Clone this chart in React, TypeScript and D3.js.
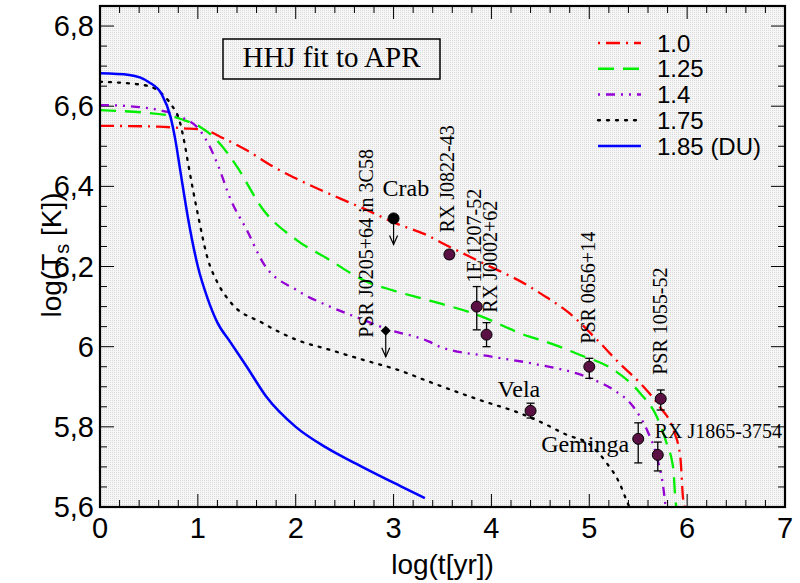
import React from 'react';
import * as d3 from 'd3';

const W = 800;
const H = 583;

// cooling curves: log(t[yr]) -> log(Ts[K]), one pair per stellar mass
const tM100 = [0, 0.6, 0.85, 1.06, 1.26, 1.5, 1.77, 2.0, 2.45, 2.69, 3.0, 3.37, 3.47, 3.9, 4.39, 4.5, 4.8, 5.08, 5.31, 5.52, 5.72, 5.86, 5.93, 5.96, 5.975];
const TM100 = [6.551, 6.549, 6.545, 6.541, 6.52, 6.49, 6.449, 6.42, 6.37, 6.345, 6.31, 6.275, 6.262, 6.21, 6.15, 6.133, 6.083, 6.017, 5.958, 5.909, 5.85, 5.792, 5.725, 5.617, 5.6];

const tM125 = [0, 0.68, 0.85, 1.02, 1.19, 1.33, 1.4, 1.67, 2.01, 2.35, 2.69, 3.0, 3.37, 3.85, 4.39, 4.5, 4.9, 5.25, 5.52, 5.69, 5.79, 5.86, 5.88, 5.89];
const TM125 = [6.59, 6.578, 6.566, 6.549, 6.516, 6.474, 6.449, 6.341, 6.266, 6.216, 6.166, 6.14, 6.115, 6.08, 6.025, 6.017, 5.98, 5.942, 5.884, 5.825, 5.759, 5.692, 5.617, 5.6];

const tM140 = [0, 0.3, 0.61, 0.82, 1.02, 1.12, 1.21, 1.33, 1.5, 1.67, 2.01, 2.35, 2.69, 2.92, 3.37, 3.47, 4.0, 4.42, 5.01, 5.25, 5.45, 5.59, 5.69, 5.76, 5.78];
const TM140 = [6.603, 6.6, 6.59, 6.574, 6.54, 6.5, 6.45, 6.37, 6.291, 6.208, 6.141, 6.1, 6.067, 6.045, 6.012, 6.0, 5.975, 5.958, 5.921, 5.892, 5.85, 5.792, 5.725, 5.642, 5.6];

const tM175 = [0, 0.44, 0.61, 0.73, 0.81, 0.87, 0.9, 1.0, 1.1, 1.2, 1.33, 1.67, 2.01, 2.35, 2.69, 3.07, 3.37, 3.88, 4.29, 4.53, 4.77, 5.0, 5.18, 5.31, 5.38, 5.41];
const TM175 = [6.661, 6.653, 6.636, 6.603, 6.566, 6.5, 6.458, 6.33, 6.22, 6.16, 6.112, 6.058, 6.017, 5.992, 5.967, 5.94, 5.912, 5.867, 5.834, 5.809, 5.78, 5.757, 5.709, 5.659, 5.617, 5.6];

const tM185 = [0, 0.3, 0.5, 0.63, 0.72, 0.77, 0.82, 0.9, 1.0, 1.1, 1.2, 1.33, 1.5, 1.7, 2.0, 2.3, 2.6, 3.07, 3.32];
const TM185 = [6.682, 6.678, 6.66, 6.63, 6.574, 6.516, 6.44, 6.32, 6.2, 6.12, 6.06, 6.012, 5.95, 5.875, 5.8, 5.75, 5.71, 5.652, 5.622];

const massLabels = ['1.0', '1.25', '1.4', '1.75', '1.85 (DU)'];

// observed pulsars
const psrNames = ['Crab', 'PSR J0205+64 in 3C58', 'RX J0822-43', '1E 1207-52', 'RX J0002+62', 'Vela', 'PSR 0656+14', 'Geminga', 'PSR 1055-52', 'RX J1865-3754'];
const psrAge = [3.0, 2.92, 3.57, 3.85, 3.95, 4.4, 5.0, 5.5, 5.73, 5.7];
const psrTemp = [6.32, 6.04, 6.23, 6.1, 6.03, 5.84, 5.95, 5.77, 5.87, 5.73];
const psrTempLo = [NaN, NaN, 6.22, 6.042, 6.0, 5.822, 5.921, 5.71, 5.842, 5.69];
const psrTempHi = [NaN, NaN, 6.24, 6.15, 6.06, 5.859, 5.971, 5.81, 5.892, 5.762];
const psrUpperLimit = [true, true, false, false, false, false, false, false, false, false];

const xTicks = [0, 1, 2, 3, 4, 5, 6, 7];
const yTicks = [5.6, 5.8, 6.0, 6.2, 6.4, 6.6, 6.8];

// styling
const lineColors = ['#ff0000', '#00ee00', '#9400d3', '#000000', '#0000ff'];
const lineDash = ['14,6,2,6', '16,9', '9,6,2,6,2,6', '2,7', null];
const legendDashOffset = [20, 0, 23, 0, 0];
// label placement relative to the point (px): dx, dy, rotated, font size, anchor
const labelPos: [number, number, boolean, number, string][] = [
  [-11, -22, false, 24, 'start'],
  [-13, 7, true, 20, 'start'],
  [5, -22, true, 20, 'start'],
  [4, -24, true, 20, 'start'],
  [10, -22, true, 20, 'start'],
  [-33, -14, false, 24, 'start'],
  [6, -23, true, 20, 'start'],
  [-9, 13, false, 24, 'end'],
  [6, -24, true, 20, 'start'],
  [-3, -17, false, 20, 'start'],
];

const serif = '"Liberation Serif", "Times New Roman", serif';
const sans = '"Liberation Sans", Arial, sans-serif';

export default function App() {
  const x = d3.scaleLinear().domain([0, 7]).range([100, 785]);
  const y = d3.scaleLinear().domain([5.6, 6.85]).range([507, 6]);
  const [x0, x1] = x.range();
  const [y0, y1] = y.range();

  const curves = [
    [tM100, TM100],
    [tM125, TM125],
    [tM140, TM140],
    [tM175, TM175],
    [tM185, TM185],
  ];

  const line = d3.line<[number, number]>()
    .x(d => x(d[0]))
    .y(d => y(d[1]))
    .curve(d3.curveMonotoneX);

  const xMinor = d3.range(0, 36).map(i => i * 0.2);
  const yMinor = d3.range(0, 26).map(i => 5.6 + i * 0.05).filter(v => v <= 6.85);
  const fmtY = (v: number) => {
    const s = d3.format('.1f')(v);
    return s.endsWith('.0') ? s.slice(0, -2) : s.replace('.', ',');
  };

  const legendY = d3.scaleLinear().domain([0, 4]).range([43, 146]);

  return (
    <svg width={W} height={H} style={{ position: 'absolute', left: 0, top: 0, background: '#fff' }}>
      <defs>
        <pattern id="dots" width="2" height="2" patternUnits="userSpaceOnUse">
          <rect width="2" height="2" fill="#f6f6f6" />
          <rect width="1" height="1" fill="#dadada" />
        </pattern>
        <clipPath id="plot">
          <rect x={x0} y={y1} width={x1 - x0} height={y0 - y1} />
        </clipPath>
      </defs>

      <rect x={x0} y={y1} width={x1 - x0} height={y0 - y1} fill="url(#dots)" />

      {/* ticks, all four sides, pointing inward */}
      <g stroke="#000" strokeWidth={1}>
        {xMinor.map((v, i) => {
          const major = Math.abs(v - Math.round(v)) < 1e-6;
          const len = major ? 13 : 7;
          return (
            <g key={'xt' + i}>
              <line x1={x(v)} x2={x(v)} y1={y0} y2={y0 - len} />
              <line x1={x(v)} x2={x(v)} y1={y1} y2={y1 + len} />
            </g>
          );
        })}
        {yMinor.map((v, i) => {
          const major = Math.abs(v * 5 - Math.round(v * 5)) < 1e-6;
          const len = major ? 14 : 7;
          return (
            <g key={'yt' + i}>
              <line x1={x0} x2={x0 + len} y1={y(v)} y2={y(v)} />
              <line x1={x1} x2={x1 - len} y1={y(v)} y2={y(v)} />
            </g>
          );
        })}
      </g>

      {/* cooling curves */}
      <g clipPath="url(#plot)" fill="none">
        {curves.map((c, i) => (
          <path
            key={'c' + i}
            d={line(c[0].map((t, j) => [t, c[1][j]] as [number, number])) || ''}
            stroke={lineColors[i]}
            strokeWidth={i === 4 ? 2.5 : 2.3}
            strokeDasharray={lineDash[i] || undefined}
            strokeLinecap={i === 3 ? 'round' : 'butt'}
          />
        ))}
      </g>

      {/* observations */}
      <g>
        {psrNames.map((name, i) => {
          const px = x(psrAge[i]);
          const py = y(psrTemp[i]);
          const [dx, dy, rot, fs, anchor] = labelPos[i];
          const lx = px + dx;
          const ly = py + dy;
          return (
            <g key={'p' + i}>
              {!isNaN(psrTempLo[i]) && (
                <g stroke="#000" strokeWidth={1.3}>
                  <line x1={px} x2={px} y1={y(psrTempLo[i])} y2={y(psrTempHi[i])} />
                  <line x1={px - 4} x2={px + 4} y1={y(psrTempLo[i])} y2={y(psrTempLo[i])} />
                  <line x1={px - 4} x2={px + 4} y1={y(psrTempHi[i])} y2={y(psrTempHi[i])} />
                </g>
              )}
              {psrUpperLimit[i] && (
                <g stroke="#000" strokeWidth={1.2} fill="none">
                  <line x1={px} x2={px} y1={py} y2={py + 26} />
                  <path d={`M${px - 4},${py + 17} L${px},${py + 26} L${px + 4},${py + 17}`} />
                </g>
              )}
              {i === 1 ? (
                <path d={`M${px},${py - 5} L${px + 5},${py} L${px},${py + 5} L${px - 5},${py} Z`} fill="#000" />
              ) : (
                <circle cx={px} cy={py} r={5.5} fill={i === 0 ? '#000' : '#5b1043'} stroke="#000" strokeWidth={1} />
              )}
              <text
                x={lx}
                y={ly}
                fontFamily={serif}
                fontSize={fs}
                textAnchor={anchor}
                transform={rot ? `rotate(-90,${lx},${ly})` : undefined}
              >
                {name}
              </text>
            </g>
          );
        })}
      </g>

      {/* frame */}
      <rect x={x0} y={y1} width={x1 - x0} height={y0 - y1} fill="none" stroke="#000" strokeWidth={2.2} />

      {/* title box */}
      <rect x={223} y={39} width={217} height={40} fill="none" stroke="#000" strokeWidth={1.5} />
      <text x={331.5} y={67} textAnchor="middle" fontFamily={serif} fontSize={29}>HHJ fit to APR</text>

      {/* legend */}
      <g>
        {massLabels.map((m, i) => (
          <g key={'l' + i}>
            <line
              x1={598} x2={641} y1={legendY(i)} y2={legendY(i)}
              stroke={lineColors[i]} strokeWidth={2.3}
              strokeDasharray={lineDash[i] || undefined}
              strokeDashoffset={legendDashOffset[i]}
              strokeLinecap={i === 3 ? 'round' : 'butt'}
            />
            <text x={657} y={legendY(i) + 8.5} fontFamily={sans} fontSize={24}>{m}</text>
          </g>
        ))}
      </g>

      {/* tick labels */}
      <g fontFamily={sans} fontSize={29}>
        {xTicks.map(v => (
          <text key={'xl' + v} x={x(v)} y={538} textAnchor="middle">{v}</text>
        ))}
        {yTicks.map(v => (
          <text key={'yl' + v} x={94} y={y(v) + 10} textAnchor="end">{fmtY(v)}</text>
        ))}
      </g>

      {/* axis titles */}
      <text x={(x0 + x1) / 2} y={574} textAnchor="middle" fontFamily={sans} fontSize={28}>log(t[yr])</text>
      <text
        x={61}
        y={255}
        textAnchor="middle"
        fontFamily={sans}
        fontSize={28}
        transform="rotate(-90,61,255)"
      >
        log(T<tspan fontSize={20} dy={8}>s</tspan><tspan dy={-8}> [K])</tspan>
      </text>
    </svg>
  );
}
